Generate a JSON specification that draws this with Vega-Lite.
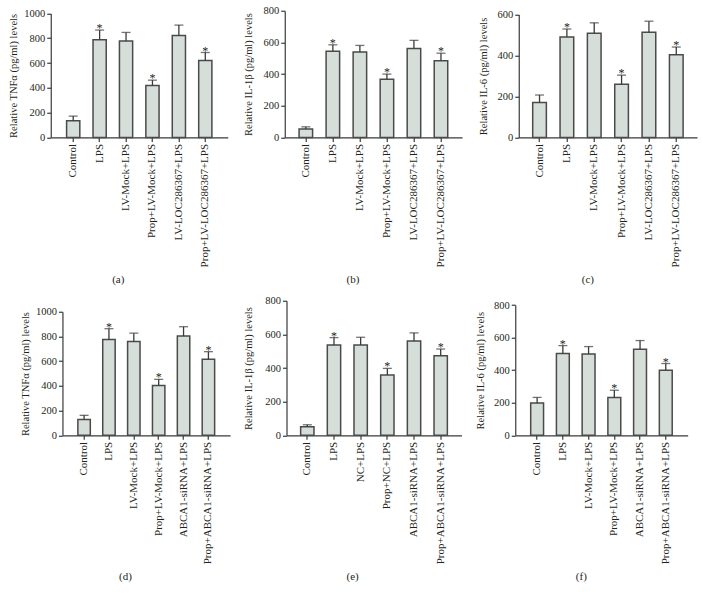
{
  "$schema": "https://vega.github.io/schema/vega-lite/v6.json",
  "padding": {"left": 7.75, "top": 5.75, "right": 5, "bottom": 5},
  "background": "white",
  "datasets": {
    "a": [
      {"group": "Control", "value": 134, "err": 172, "sig": ""},
      {"group": "LPS", "value": 788, "err": 866, "sig": "*"},
      {"group": "LV-Mock+LPS", "value": 777, "err": 847, "sig": ""},
      {"group": "Prop+LV-Mock+LPS", "value": 419, "err": 462, "sig": "*"},
      {"group": "LV-LOC286367+LPS", "value": 823, "err": 906, "sig": ""},
      {"group": "Prop+LV-LOC286367+LPS", "value": 621, "err": 685, "sig": "*"}
    ],
    "b": [
      {"group": "Control", "value": 53, "err": 67, "sig": ""},
      {"group": "LPS", "value": 545, "err": 585, "sig": "*"},
      {"group": "LV-Mock+LPS", "value": 539, "err": 581, "sig": ""},
      {"group": "Prop+LV-Mock+LPS", "value": 368, "err": 400, "sig": "*"},
      {"group": "LV-LOC286367+LPS", "value": 562, "err": 613, "sig": ""},
      {"group": "Prop+LV-LOC286367+LPS", "value": 484, "err": 532, "sig": "*"}
    ],
    "c": [
      {"group": "Control", "value": 171, "err": 207, "sig": ""},
      {"group": "LPS", "value": 490, "err": 529, "sig": "*"},
      {"group": "LV-Mock+LPS", "value": 508, "err": 559, "sig": ""},
      {"group": "Prop+LV-Mock+LPS", "value": 259, "err": 304, "sig": "*"},
      {"group": "LV-LOC286367+LPS", "value": 513, "err": 567, "sig": ""},
      {"group": "Prop+LV-LOC286367+LPS", "value": 403, "err": 441, "sig": "*"}
    ],
    "d": [
      {"group": "Control", "value": 129, "err": 162, "sig": ""},
      {"group": "LPS", "value": 776, "err": 863, "sig": "*"},
      {"group": "LV-Mock+LPS", "value": 760, "err": 827, "sig": ""},
      {"group": "Prop+LV-Mock+LPS", "value": 404, "err": 453, "sig": "*"},
      {"group": "ABCA1-siRNA+LPS", "value": 803, "err": 879, "sig": ""},
      {"group": "Prop+ABCA1-siRNA+LPS", "value": 615, "err": 677, "sig": "*"}
    ],
    "e": [
      {"group": "Control", "value": 51, "err": 63, "sig": ""},
      {"group": "LPS", "value": 537, "err": 581, "sig": "*"},
      {"group": "NC+LPS", "value": 537, "err": 583, "sig": ""},
      {"group": "Prop+NC+LPS", "value": 358, "err": 398, "sig": "*"},
      {"group": "ABCA1-siRNA+LPS", "value": 561, "err": 609, "sig": ""},
      {"group": "Prop+ABCA1-siRNA+LPS", "value": 473, "err": 513, "sig": "*"}
    ],
    "f": [
      {"group": "Control", "value": 199, "err": 233, "sig": ""},
      {"group": "LPS", "value": 503, "err": 551, "sig": "*"},
      {"group": "LV-Mock+LPS", "value": 499, "err": 545, "sig": ""},
      {"group": "Prop+LV-Mock+LPS", "value": 233, "err": 277, "sig": "*"},
      {"group": "ABCA1-siRNA+LPS", "value": 529, "err": 582, "sig": ""},
      {"group": "Prop+ABCA1-siRNA+LPS", "value": 400, "err": 441, "sig": "*"}
    ]
  },
  "vconcat": [
    {
      "spacing": 15,
      "hconcat": [
        {
          "data": {"name": "a"},
          "width": 177, "height": 126.7,
          "title": {"text": "(a)"},
          "encoding": {
            "x": {"field": "group", "type": "nominal", "sort": null, "scale": {"paddingInner": 0.5, "paddingOuter": 0.6}, "axis": {"title": null}},
            "y": {"field": "value", "type": "quantitative", "scale": {"domain": [0, 1000], "nice": false, "rangeMax": 2.7}, "axis": {"values": [0, 200, 400, 600, 800, 1000], "format": "d", "labelOverlap": false, "title": "Relative TNFα (pg/ml) levels", "titlePadding": 5}}
          },
          "layer": [
            {"mark": {"type": "bar", "fill": "#d6deda", "stroke": "#4a4a4a", "strokeWidth": 1.5}},
            {"mark": {"type": "rule", "color": "#3a3a3a", "strokeWidth": 1.3}, "encoding": {"y2": {"field": "err"}}},
            {"mark": {"type": "tick", "color": "#3a3a3a", "thickness": 1.3, "size": 9}, "encoding": {"y": {"field": "err", "type": "quantitative", "axis": {"values": [0, 200, 400, 600, 800, 1000], "format": "d", "labelOverlap": false, "title": "Relative TNFα (pg/ml) levels", "titlePadding": 5}}}},
            {"mark": {"type": "text", "font": "Liberation Serif", "fontSize": 12, "baseline": "alphabetic", "dy": 2, "color": "#231f20"}, "encoding": {"y": {"field": "err", "type": "quantitative", "axis": {"values": [0, 200, 400, 600, 800, 1000], "format": "d", "labelOverlap": false, "title": "Relative TNFα (pg/ml) levels", "titlePadding": 5}}, "text": {"field": "sig"}}}
          ]
        },
        {
          "data": {"name": "b"},
          "width": 177.3, "height": 126.7,
          "title": {"text": "(b)"},
          "encoding": {
            "x": {"field": "group", "type": "nominal", "sort": null, "scale": {"paddingInner": 0.5, "paddingOuter": 0.53}, "axis": {"title": null}},
            "y": {"field": "value", "type": "quantitative", "scale": {"domain": [0, 800], "nice": false}, "axis": {"values": [0, 200, 400, 600, 800], "format": "d", "labelOverlap": false, "title": "Relative IL-1β (pg/ml) levels", "titlePadding": 9.3}}
          },
          "layer": [
            {"mark": {"type": "bar", "fill": "#d6deda", "stroke": "#4a4a4a", "strokeWidth": 1.5}},
            {"mark": {"type": "rule", "color": "#3a3a3a", "strokeWidth": 1.3}, "encoding": {"y2": {"field": "err"}}},
            {"mark": {"type": "tick", "color": "#3a3a3a", "thickness": 1.3, "size": 9}, "encoding": {"y": {"field": "err", "type": "quantitative", "axis": {"values": [0, 200, 400, 600, 800], "format": "d", "labelOverlap": false, "title": "Relative IL-1β (pg/ml) levels", "titlePadding": 9.3}}}},
            {"mark": {"type": "text", "font": "Liberation Serif", "fontSize": 12, "baseline": "alphabetic", "dy": 2, "color": "#231f20"}, "encoding": {"y": {"field": "err", "type": "quantitative", "axis": {"values": [0, 200, 400, 600, 800], "format": "d", "labelOverlap": false, "title": "Relative IL-1β (pg/ml) levels", "titlePadding": 9.3}}, "text": {"field": "sig"}}}
          ]
        },
        {
          "data": {"name": "c"},
          "width": 178.3, "height": 126.7,
          "title": {"text": "(c)"},
          "encoding": {
            "x": {"field": "group", "type": "nominal", "sort": null, "scale": {"paddingInner": 0.5, "paddingOuter": 0.51}, "axis": {"title": null}},
            "y": {"field": "value", "type": "quantitative", "scale": {"domain": [0, 600], "nice": false, "rangeMax": 3.7}, "axis": {"values": [0, 200, 400, 600], "format": "d", "labelOverlap": false, "title": "Relative IL-6 (pg/ml) levels", "titlePadding": 8.4}}
          },
          "layer": [
            {"mark": {"type": "bar", "fill": "#d6deda", "stroke": "#4a4a4a", "strokeWidth": 1.5}},
            {"mark": {"type": "rule", "color": "#3a3a3a", "strokeWidth": 1.3}, "encoding": {"y2": {"field": "err"}}},
            {"mark": {"type": "tick", "color": "#3a3a3a", "thickness": 1.3, "size": 9}, "encoding": {"y": {"field": "err", "type": "quantitative", "axis": {"values": [0, 200, 400, 600], "format": "d", "labelOverlap": false, "title": "Relative IL-6 (pg/ml) levels", "titlePadding": 8.4}}}},
            {"mark": {"type": "text", "font": "Liberation Serif", "fontSize": 12, "baseline": "alphabetic", "dy": 2, "color": "#231f20"}, "encoding": {"y": {"field": "err", "type": "quantitative", "axis": {"values": [0, 200, 400, 600], "format": "d", "labelOverlap": false, "title": "Relative IL-6 (pg/ml) levels", "titlePadding": 8.4}}, "text": {"field": "sig"}}}
          ]
        }
      ]
    },
    {
      "spacing": 12.75,
      "hconcat": [
        {
          "data": {"name": "d"},
          "width": 179.3, "height": 134.6,
          "title": {"text": "(d)"},
          "encoding": {
            "x": {"field": "group", "type": "nominal", "sort": null, "scale": {"paddingInner": 0.5, "paddingOuter": 0.62, "rangeMin": 11.7}, "axis": {"title": null}},
            "y": {"field": "value", "type": "quantitative", "scale": {"domain": [0, 1000], "nice": false, "rangeMax": 11}, "axis": {"values": [0, 200, 400, 600, 800, 1000], "format": "d", "labelOverlap": false, "title": "Relative TNFα (pg/ml) levels", "titlePadding": 4.5, "offset": -11.7}}
          },
          "layer": [
            {"mark": {"type": "bar", "fill": "#d6deda", "stroke": "#4a4a4a", "strokeWidth": 1.5}},
            {"mark": {"type": "rule", "color": "#3a3a3a", "strokeWidth": 1.3}, "encoding": {"y2": {"field": "err"}}},
            {"mark": {"type": "tick", "color": "#3a3a3a", "thickness": 1.3, "size": 9}, "encoding": {"y": {"field": "err", "type": "quantitative", "axis": {"values": [0, 200, 400, 600, 800, 1000], "format": "d", "labelOverlap": false, "title": "Relative TNFα (pg/ml) levels", "titlePadding": 4.5, "offset": -11.7}}}},
            {"mark": {"type": "text", "font": "Liberation Serif", "fontSize": 12, "baseline": "alphabetic", "dy": 2, "color": "#231f20"}, "encoding": {"y": {"field": "err", "type": "quantitative", "axis": {"values": [0, 200, 400, 600, 800, 1000], "format": "d", "labelOverlap": false, "title": "Relative TNFα (pg/ml) levels", "titlePadding": 4.5, "offset": -11.7}}, "text": {"field": "sig"}}}
          ]
        },
        {
          "data": {"name": "e"},
          "width": 175, "height": 134.6,
          "title": {"text": "(e)"},
          "encoding": {
            "x": {"field": "group", "type": "nominal", "sort": null, "scale": {"paddingInner": 0.5, "paddingOuter": 0.53}, "axis": {"title": null}},
            "y": {"field": "value", "type": "quantitative", "scale": {"domain": [0, 800], "nice": false}, "axis": {"values": [0, 200, 400, 600, 800], "format": "d", "labelOverlap": false, "title": "Relative IL-1β (pg/ml) levels", "titlePadding": 11}}
          },
          "layer": [
            {"mark": {"type": "bar", "fill": "#d6deda", "stroke": "#4a4a4a", "strokeWidth": 1.5}},
            {"mark": {"type": "rule", "color": "#3a3a3a", "strokeWidth": 1.3}, "encoding": {"y2": {"field": "err"}}},
            {"mark": {"type": "tick", "color": "#3a3a3a", "thickness": 1.3, "size": 9}, "encoding": {"y": {"field": "err", "type": "quantitative", "axis": {"values": [0, 200, 400, 600, 800], "format": "d", "labelOverlap": false, "title": "Relative IL-1β (pg/ml) levels", "titlePadding": 11}}}},
            {"mark": {"type": "text", "font": "Liberation Serif", "fontSize": 12, "baseline": "alphabetic", "dy": 2, "color": "#231f20"}, "encoding": {"y": {"field": "err", "type": "quantitative", "axis": {"values": [0, 200, 400, 600, 800], "format": "d", "labelOverlap": false, "title": "Relative IL-1β (pg/ml) levels", "titlePadding": 11}}, "text": {"field": "sig"}}}
          ]
        },
        {
          "data": {"name": "f"},
          "width": 172.4, "height": 134.6,
          "title": {"text": "(f)"},
          "encoding": {
            "x": {"field": "group", "type": "nominal", "sort": null, "scale": {"paddingInner": 0.5, "paddingOuter": 0.6}, "axis": {"title": null}},
            "y": {"field": "value", "type": "quantitative", "scale": {"domain": [0, 800], "nice": false, "rangeMax": 4.3}, "axis": {"values": [0, 200, 400, 600, 800], "format": "d", "labelOverlap": false, "title": "Relative IL-6 (pg/ml) levels", "titlePadding": 8.5}}
          },
          "layer": [
            {"mark": {"type": "bar", "fill": "#d6deda", "stroke": "#4a4a4a", "strokeWidth": 1.5}},
            {"mark": {"type": "rule", "color": "#3a3a3a", "strokeWidth": 1.3}, "encoding": {"y2": {"field": "err"}}},
            {"mark": {"type": "tick", "color": "#3a3a3a", "thickness": 1.3, "size": 9}, "encoding": {"y": {"field": "err", "type": "quantitative", "axis": {"values": [0, 200, 400, 600, 800], "format": "d", "labelOverlap": false, "title": "Relative IL-6 (pg/ml) levels", "titlePadding": 8.5}}}},
            {"mark": {"type": "text", "font": "Liberation Serif", "fontSize": 12, "baseline": "alphabetic", "dy": 2, "color": "#231f20"}, "encoding": {"y": {"field": "err", "type": "quantitative", "axis": {"values": [0, 200, 400, 600, 800], "format": "d", "labelOverlap": false, "title": "Relative IL-6 (pg/ml) levels", "titlePadding": 8.5}}, "text": {"field": "sig"}}}
          ]
        }
      ]
    }
  ],
  "spacing": 10,
  "config": {
    "view": {"stroke": null},
    "font": "Liberation Serif",
    "axis": {"labelFont": "Liberation Serif", "titleFont": "Liberation Serif", "labelColor": "#231f20", "titleColor": "#231f20", "domainColor": "#3a3a3a", "tickColor": "#3a3a3a", "domainWidth": 1.2, "tickWidth": 1.2, "tickSize": 4, "grid": false, "titleFontWeight": "normal", "labelPadding": 2},
    "axisX": {"labelAngle": -90, "labelFontSize": 11},
    "axisY": {"labelFontSize": 10.5, "titleFontSize": 10.5},
    "title": {"font": "Liberation Serif", "fontSize": 11, "fontWeight": "normal", "color": "#231f20", "orient": "bottom", "anchor": "middle", "frame": "bounds", "offset": 7}
  }
}
